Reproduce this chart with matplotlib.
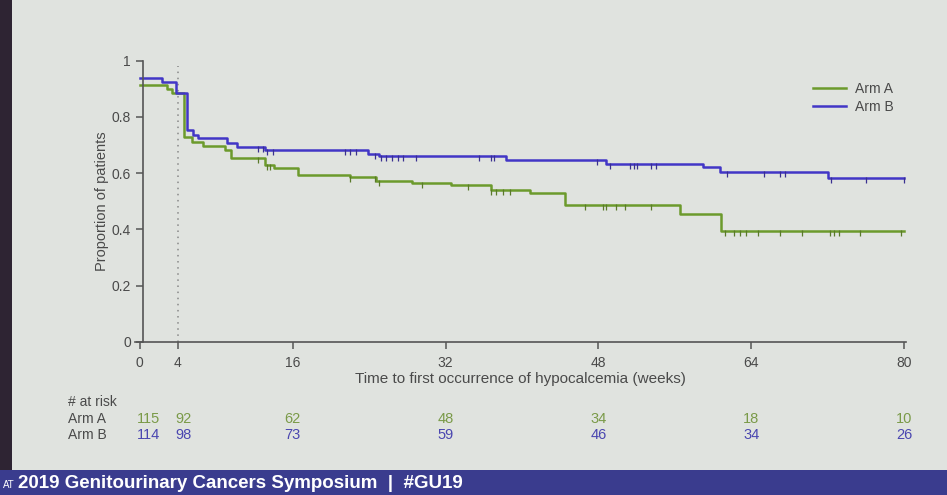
import numpy as np
import matplotlib
matplotlib.use("Agg")
import matplotlib.pyplot as plt
from matplotlib.patches import Rectangle

plt.rcParams['font.family'] = ['Liberation Sans Narrow', 'Liberation Sans', 'DejaVu Sans']

# ---------------- data ----------------
arm_a_times = [0, 2.9, 3.4, 4.6, 5.5, 6.6, 8.9, 9.6, 13.1, 14.0, 16.6, 22.0, 24.7,
               28.5, 32.6, 36.8, 40.8, 44.5, 56.5, 60.8, 80]
arm_a_surv = [0.913, 0.898, 0.884, 0.73, 0.712, 0.696, 0.682, 0.653, 0.629, 0.617, 0.593,
              0.585, 0.573, 0.565, 0.556, 0.541, 0.529, 0.488, 0.453, 0.393, 0.393]
arm_a_censor = [12.4, 13.3, 13.6, 22.0, 24.6, 25.0, 29.5, 34.4, 36.8, 37.3, 38.0, 38.7,
                46.6, 48.5, 48.8, 49.8, 50.8, 53.5, 61.3, 62.2, 62.8, 63.5, 64.7, 67.0,
                69.3, 72.2, 72.7, 73.2, 75.4, 79.7]

arm_b_times = [0, 2.3, 3.8, 4.9, 5.6, 6.1, 9.1, 10.2, 13.1, 23.9, 25.0, 38.3, 48.8,
               58.9, 60.7, 72.0, 80]
arm_b_surv = [0.937, 0.925, 0.884, 0.753, 0.735, 0.726, 0.708, 0.692, 0.682, 0.667, 0.660,
              0.647, 0.632, 0.622, 0.604, 0.583, 0.583]
arm_b_censor = [12.4, 12.9, 13.3, 13.9, 21.5, 22.0, 22.6, 24.6, 25.3, 25.8, 26.4, 27.0,
                27.6, 28.9, 35.5, 36.8, 37.1, 47.9, 49.2, 51.3, 51.7, 52.0, 53.5, 54.0,
                61.5, 65.3, 67.0, 67.5, 72.3, 76.0, 80]

risk_times = [0, 4, 16, 32, 48, 64, 80]
risk_a = [115, 92, 62, 48, 34, 18, 10]
risk_b = [114, 98, 73, 59, 46, 34, 26]

x_ticks = [0, 4, 16, 32, 48, 64, 80]
y_ticks = [0, 0.2, 0.4, 0.6, 0.8, 1]
y_tick_labels = ["0", "0.2", "0.4", "0.6", "0.8", "1"]

# ---------------- style ----------------
BG = '#e0e3df'
GREEN = '#6c9a2c'
BLUE = '#4236c6'
TXT = '#4a4a4a'

W, H = 947, 495
fig = plt.figure(figsize=(W / 100, H / 100), dpi=100, facecolor=BG)

# photo edges: dark strip left, symposium band at bottom
fig.patches.append(Rectangle((0, 0), 12 / W, 1, transform=fig.transFigure,
                             facecolor='#2e2433', edgecolor='none', zorder=0))
fig.patches.append(Rectangle((0, 0), 1, 25 / H, transform=fig.transFigure,
                             facecolor='#3a3c8e', edgecolor='none', zorder=0))
fig.text(3 / W, 10 / H, "AT", color='white', fontsize=7, va='center', ha='left',
         family=['Liberation Sans', 'DejaVu Sans'])
fig.text(18 / W, 11 / H, "2019 Genitourinary Cancers Symposium  |  #GU19", color='white',
         fontsize=13.5, fontweight='bold', va='center', ha='left',
         family=['Liberation Sans', 'DejaVu Sans'])

x0_px, x1_px = 135, 906
y0_px, y1_px = 341.7, 60.7
ax = fig.add_axes([x0_px / W, 1 - y0_px / H, (x1_px - x0_px) / W, (y0_px - y1_px) / H])
ax.set_facecolor('none')
ax.set_xlim(-0.5, 80.2)
ax.set_ylim(0, 1)

for sp in ['top', 'right']:
    ax.spines[sp].set_visible(False)
for sp in ['left', 'bottom']:
    ax.spines[sp].set_color('#555555')
    ax.spines[sp].set_linewidth(1.2)
ax.spines['left'].set_position(('data', 0.3))

ax.set_xticks(x_ticks)
ax.set_yticks(y_ticks)
ax.set_yticklabels(y_tick_labels)
ax.tick_params(axis='both', colors='#555555', labelcolor=TXT, labelsize=10,
               direction='out', length=5, width=1.1)
ax.tick_params(axis='x', pad=5)

ax.axvline(4, ymax=0.98, color='#888888', linestyle=(0, (1, 3)), linewidth=1.1)

ax.step(arm_a_times, arm_a_surv, where='post', color=GREEN, lw=1.8, label='Arm A')
ax.step(arm_b_times, arm_b_surv, where='post', color=BLUE, lw=1.8, label='Arm B')


def surv_at(times, surv, t):
    idx = np.searchsorted(np.asarray(times), np.asarray(t), side='right') - 1
    return np.asarray(surv)[idx]


ax.plot(arm_a_censor, surv_at(arm_a_times, arm_a_surv, arm_a_censor) - 0.007,
        linestyle='none', marker='|', markersize=5, mew=0.9, color='#5a7a2a')
ax.plot(arm_b_censor, surv_at(arm_b_times, arm_b_surv, arm_b_censor) - 0.007,
        linestyle='none', marker='|', markersize=5, mew=0.9, color='#3a3090')

ax.set_ylabel("Proportion of patients", color=TXT, fontsize=10.5, labelpad=2)
ax.set_xlabel("Time to first occurrence of hypocalcemia (weeks)", color=TXT,
              fontsize=11, labelpad=2)

leg = ax.legend(loc='upper right', bbox_to_anchor=(1.0, 0.97), frameon=False,
                fontsize=10, handlelength=2.4, handletextpad=0.6, labelspacing=0.3,
                labelcolor=TXT)

# ---------------- number at risk ----------------
trans = ax.get_xaxis_transform()
fig.text(68 / W, 1 - 402 / H, "# at risk", color=TXT, fontsize=10, va='center', ha='left')
fig.text(68 / W, 1 - 419 / H, "Arm A", color=TXT, fontsize=10, va='center', ha='left')
fig.text(68 / W, 1 - 435 / H, "Arm B", color=TXT, fontsize=10, va='center', ha='left')
row_a = -(419 - y0_px) / (y0_px - y1_px)
row_b = -(435 - y0_px) / (y0_px - y1_px)
for i, (t, a, b) in enumerate(zip(risk_times, risk_a, risk_b)):
    dx = 0.9 if i == 0 else (0.6 if i == 1 else 0)
    ax.text(t + dx, row_a, str(a), transform=trans, color='#7a9a48', fontsize=10.5,
            ha='center', va='center', clip_on=False)
    ax.text(t + dx, row_b, str(b), transform=trans, color='#4a46b0', fontsize=10.5,
            ha='center', va='center', clip_on=False)

fig.savefig("out.png", dpi=100, facecolor=fig.get_facecolor())
